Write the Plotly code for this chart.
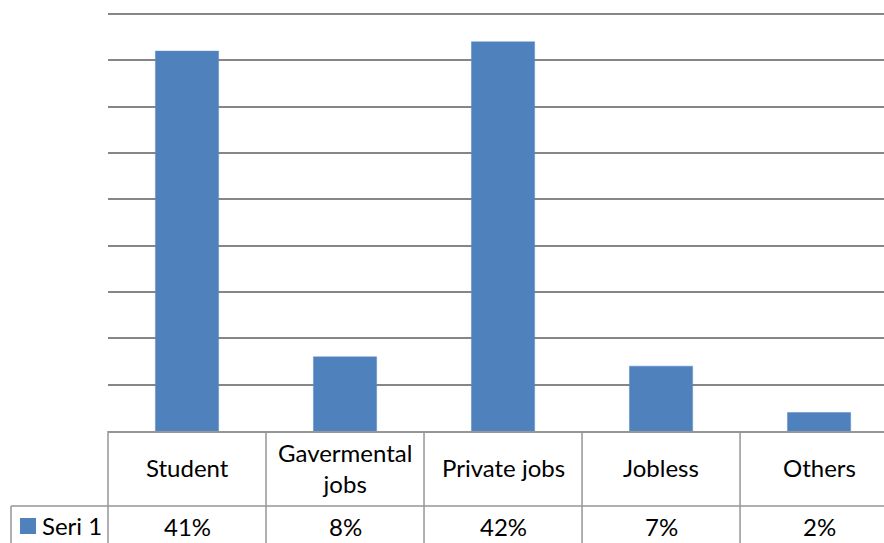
import plotly.graph_objects as go

categories = ["Student", "Gavermental<br>jobs", "Private jobs", "Jobless", "Others"]
values = [41, 8, 42, 7, 2]
value_labels = ["41%", "8%", "42%", "7%", "2%"]
series_name = "Seri 1"

BAR_COLOR = "#4F81BD"
GRID_COLOR = "#868686"
TABLE_COLOR = "#969696"
FONT = "Lato"
FONT_SIZE = 24

W, H = 884, 543
ML, MT, MB = 108, 14, 112
X_MIN, X_MAX = -0.5, 4.411   # last column runs off the right edge
Y_MAX = 45

xs = list(range(len(categories)))

fig = go.Figure()
fig.add_trace(go.Bar(
    x=xs, y=values, width=0.4, name=series_name,
    marker=dict(color=BAR_COLOR, line=dict(color="#5B8BC6", width=0.5)),
    showlegend=False, hoverinfo="skip",
))


def px_x(v):
    """data x -> paper x"""
    return (v - X_MIN) / (X_MAX - X_MIN)


def py(pix):
    """pixel row -> paper y"""
    plot_h = H - MT - MB
    return (H - MB - pix) / plot_h


shapes = []
# top gridline sits on the upper edge of the plot area
shapes.append(dict(type="line", xref="paper", yref="paper",
                   x0=0, x1=1, y0=1, y1=1,
                   line=dict(color=GRID_COLOR, width=2)))
row1_bottom = py(506)
table_bottom = py(560)
xl = px_x(-0.5) - 97 / (W - ML)
# horizontal rule between header row and value row
shapes.append(dict(type="line", xref="paper", yref="paper",
                   x0=xl, x1=1.05, y0=row1_bottom, y1=row1_bottom,
                   line=dict(color=TABLE_COLOR, width=1.5)))
# column separators
for i in range(len(categories)):
    xb = px_x(i - 0.5)
    shapes.append(dict(type="line", xref="paper", yref="paper",
                       x0=xb, x1=xb, y0=0, y1=table_bottom,
                       line=dict(color=TABLE_COLOR, width=1.5)))
# left edge of the series row
shapes.append(dict(type="line", xref="paper", yref="paper",
                   x0=xl, x1=xl, y0=row1_bottom, y1=table_bottom,
                   line=dict(color=TABLE_COLOR, width=1.5)))
# legend key
shapes.append(dict(type="rect", xref="paper", yref="paper",
                   x0=px_x(-0.5) - 88 / (W - ML), x1=px_x(-0.5) - 72 / (W - ML),
                   y0=py(534), y1=py(518),
                   fillcolor=BAR_COLOR, line=dict(width=0)))

font = dict(family=FONT, size=FONT_SIZE, color="#000000")
annotations = []
for i, (c, v) in enumerate(zip(categories, value_labels)):
    annotations.append(dict(x=px_x(i), y=py(468), xref="paper", yref="paper",
                            text=c, showarrow=False, font=font,
                            xanchor="center", yanchor="middle"))
    annotations.append(dict(x=px_x(i), y=py(526), xref="paper", yref="paper",
                            text=v, showarrow=False, font=font,
                            xanchor="center", yanchor="middle"))
annotations.append(dict(x=px_x(-0.5) - 68 / (W - ML), y=py(525), xref="paper", yref="paper",
                        text=series_name, showarrow=False, font=font,
                        xanchor="left", yanchor="middle"))

fig.update_layout(
    width=W, height=H,
    margin=dict(l=ML, r=0, t=MT, b=MB, pad=0),
    paper_bgcolor="white", plot_bgcolor="white",
    shapes=shapes, annotations=annotations,
    xaxis=dict(range=[X_MIN, X_MAX], showgrid=False, zeroline=False,
               showticklabels=False, ticks="", showline=True,
               linecolor=TABLE_COLOR, linewidth=1.5),
    yaxis=dict(range=[0, Y_MAX], dtick=5, showgrid=True, gridcolor=GRID_COLOR,
               gridwidth=2, zeroline=False, showticklabels=False, ticks="",
               showline=False),
)

fig.write_html("out.html")
